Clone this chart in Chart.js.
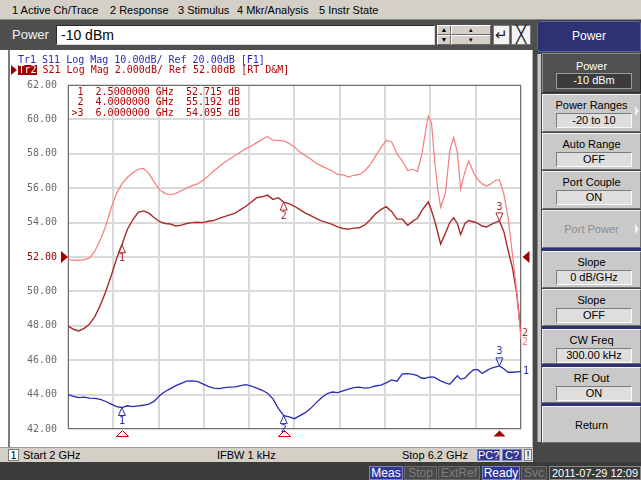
<!DOCTYPE html>
<html>
<head>
<meta charset="utf-8">
<title>S21 / S11 sweep</title>
<script src="https://cdn.jsdelivr.net/npm/chart.js@4.4.1/dist/chart.umd.min.js"></script>
<style>
  html, body { margin: 0; padding: 0; }
  body { width: 641px; height: 480px; position: relative; overflow: hidden; background: #424242;
         font-family: "Liberation Sans", Arial, sans-serif; }
  .box { position: absolute; box-sizing: border-box; }
  #menu { left: 0; top: 0; width: 641px; height: 20px; background: #d4d0c8; border-bottom: 1px solid #8a8a8a; }
  .mi { position: absolute; top: 3px; font-size: 11px; line-height: 14px; color: #000; white-space: nowrap; }
  #entry { left: 0; top: 20px; width: 537px; height: 30px; background: #4f4f4f; }
  #entryLabel { left: 12px; top: 26px; font-size: 13px; line-height: 18px; color: #f2f2f2; }
  #entryField { left: 56px; top: 25px; width: 379px; height: 20px; background: #fff;
                border-style: solid; border-width: 1px; border-color: #2a2a2a #d8d8d8 #d8d8d8 #2a2a2a;
                font-size: 14px; line-height: 18px; padding-left: 4px; color: #000; }
  .sb { position: absolute; box-sizing: border-box; background: #d4d0c8; border-style: solid; border-width: 1px;
        border-color: #fff #6a6a6a #6a6a6a #fff; font-size: 7px; line-height: 7px; text-align: center; color: #000; }
  .wb { position: absolute; box-sizing: border-box; background: #f4f4f4; border: 1px solid #7a7a7a;
        text-align: center; color: #222; }
  #hdr { left: 537px; top: 21px; width: 104px; height: 31px; background: #2c3272; border: 1px solid #5b61a0;
         border-radius: 3px; color: #fff; font-size: 12px; line-height: 29px; text-align: center; }
  #panel { left: 535px; top: 52px; width: 106px; height: 412px; background: #484848; }
  #strip { left: 537px; top: 54px; width: 4px; height: 388px; background: #c6c6c6; border-left: 1px solid #8a8a8a; }
  .key { position: absolute; box-sizing: border-box; left: 542px; width: 99px; background: #c9c9c9;
         border-style: solid; border-width: 1px; border-color: #f2f2f2 #6c6c6c #6c6c6c #f2f2f2; }
  .kl { position: absolute; left: 0; right: 0; top: 3px; text-align: center; font-size: 11px; line-height: 14px; color: #000; }
  .kv { position: absolute; box-sizing: border-box; left: 13px; width: 76px; top: 18px; height: 15px; background: #dedede;
        border-style: solid; border-width: 1px; border-color: #7c7c7c #fafafa #fafafa #7c7c7c;
        text-align: center; font-size: 11px; line-height: 13px; color: #000; }
  .key.sel { background: #505050; border-color: #8a8a8a #2a2a2a #2a2a2a #8a8a8a; }
  .key.sel .kl { color: #fff; }
  .key.sel .kv { background: #3c3c3c; border-color: #9c9c9c; color: #fff; }
  .key.off .kl { color: #8e8e8e; }
  .arr { position: absolute; right: 1px; width: 0; height: 0; border-top: 5px solid transparent;
         border-bottom: 5px solid transparent; border-left: 4px solid #f0f0f0; }
  .sep { position: absolute; left: 542px; width: 99px; height: 3px; background: #2c3272; }
  #pane { left: 0; top: 50px; width: 533px; height: 397px; background: #fff; }
  #paneLine { left: 8px; top: 50px; width: 2px; height: 397px; background: #7c7c7c; }
  #divider { left: 532px; top: 50px; width: 5px; height: 413px; background: #474747; border-left: 1px solid #b8b8b8; }
  #plot { position: absolute; left: 0; top: 50px; }
  #chs { left: 0; top: 447px; width: 533px; height: 15px; background: #d4d0c8; border-top: 1px solid #9a9a9a; }
  .st { position: absolute; top: 448px; font-size: 11px; line-height: 14px; color: #000; white-space: nowrap; }
  .nv { position: absolute; box-sizing: border-box; background: #2f3894; border: 1px solid #7b82c6; color: #fff;
        text-align: center; white-space: nowrap; }
  #bot { left: 0; top: 462px; width: 641px; height: 18px; background: #3b3b3b; }
  .bb { position: absolute; box-sizing: border-box; top: 466px; height: 14px; font-size: 12px; line-height: 12px;
        text-align: center; white-space: nowrap; border: 1px solid #6a6a6a; background: #494949; color: #7e7e7e; }
  .bb.on { background: #2f3894; border-color: #7b82c6; color: #fff; }
</style>
</head>
<body>

<div id="menu" class="box">
  <span class="mi" style="left:12px">1 Active Ch/Trace</span>
  <span class="mi" style="left:110px">2 Response</span>
  <span class="mi" style="left:178px">3 Stimulus</span>
  <span class="mi" style="left:237px">4 Mkr/Analysis</span>
  <span class="mi" style="left:319px">5 Instr State</span>
</div>

<div id="entry" class="box"></div>
<div id="entryLabel" class="box">Power</div>
<div id="entryField" class="box">-10 dBm</div>
<div class="sb" style="left:437px;top:25px;width:14px;height:10px">&#9650;</div>
<div class="sb" style="left:437px;top:35px;width:14px;height:10px">&#9660;</div>
<div class="sb" style="left:451px;top:25px;width:40px;height:10px">&#9652;</div>
<div class="sb" style="left:451px;top:35px;width:40px;height:10px">&#9662;</div>
<div class="wb" style="left:493px;top:25px;width:17px;height:20px;font-size:15px;line-height:18px">&#8629;</div>
<div class="wb" style="left:511px;top:25px;width:20px;height:20px;font-size:17px;line-height:18px;font-weight:100">&#9587;</div>

<div id="hdr" class="box">Power</div>
<div id="panel" class="box"></div>
<div id="strip" class="box"></div>

<div class="key sel" style="top:53px;height:40px"><div class="kl" style="top:5px">Power</div><div class="kv" style="top:19px;height:16px">-10 dBm</div></div>
<div class="key" style="top:94px;height:38px"><div class="kl">Power Ranges</div><div class="kv">-20 to 10</div><div class="arr" style="top:11px"></div></div>
<div class="key" style="top:133px;height:37px"><div class="kl">Auto Range</div><div class="kv">OFF</div></div>
<div class="key" style="top:171px;height:38px"><div class="kl">Port Couple</div><div class="kv">ON</div></div>
<div class="key off" style="top:210px;height:38px"><div class="kl" style="top:11px">Port Power</div><div class="arr" style="top:13px"></div></div>
<div class="sep" style="top:248px"></div>
<div class="key" style="top:251px;height:37px"><div class="kl">Slope</div><div class="kv">0 dB/GHz</div></div>
<div class="key" style="top:289px;height:37px"><div class="kl">Slope</div><div class="kv">OFF</div></div>
<div class="sep" style="top:326px"></div>
<div class="key" style="top:329px;height:35px"><div class="kl">CW Freq</div><div class="kv">300.00 kHz</div></div>
<div class="sep" style="top:364px"></div>
<div class="key" style="top:367px;height:36px"><div class="kl">RF Out</div><div class="kv">ON</div></div>
<div class="sep" style="top:403px"></div>
<div class="key" style="top:406px;height:37px"><div class="kl" style="top:11px">Return</div></div>

<div id="pane" class="box"></div>
<div id="paneLine" class="box"></div>
<div id="divider" class="box"></div>
<canvas id="plot" width="533" height="396"></canvas>

<div id="chs" class="box"></div>
<div class="wb" style="left:8px;top:449px;width:11px;height:12px;font-size:11px;line-height:10px;background:#fff;color:#000">1</div>
<span class="st" style="left:23px">Start 2 GHz</span>
<span class="st" style="left:217px">IFBW 1 kHz</span>
<span class="st" style="left:400px;width:68px;text-align:right">Stop 6.2 GHz</span>
<div class="nv" style="left:477px;top:449px;width:23px;height:12px;font-size:11px;line-height:10px">PC?</div>
<div class="nv" style="left:502px;top:449px;width:20px;height:12px;font-size:11px;line-height:10px">C?</div>
<div class="wb" style="left:524px;top:449px;width:8px;height:12px;font-size:11px;line-height:10px;background:#ececec;color:#000">!</div>

<div id="bot" class="box"></div>
<div class="bb on" style="left:369px;width:34px">Meas</div>
<div class="bb" style="left:404px;width:33px">Stop</div>
<div class="bb" style="left:438px;width:42px">ExtRef</div>
<div class="bb on" style="left:482px;width:38px">Ready</div>
<div class="bb" style="left:521px;width:26px">Svc</div>
<div class="bb" style="left:549px;width:92px;font-size:11px;background:#3b3b3b;border-color:#8a8a8a;color:#fff">2011-07-29 12:09</div>

<script>
// Sweep frequencies (GHz): 50 MHz steps, denser across the 5.2-6.2 GHz ripple
const freqGHz = [
  2.00, 2.05, 2.10, 2.15, 2.20, 2.25, 2.30, 2.35, 2.40, 2.45,
  2.50, 2.55, 2.60, 2.65, 2.70, 2.75, 2.80, 2.85, 2.90, 2.95,
  3.00, 3.05, 3.10, 3.15, 3.20, 3.25, 3.30, 3.35, 3.40, 3.45,
  3.50, 3.55, 3.60, 3.65, 3.70, 3.75, 3.80, 3.85, 3.90, 3.95,
  4.00, 4.05, 4.10, 4.15, 4.20, 4.25, 4.30, 4.35, 4.40, 4.45,
  4.50, 4.55, 4.60, 4.65, 4.70, 4.75, 4.80, 4.85, 4.90, 4.95,
  5.00, 5.05, 5.10, 5.15, 5.20,
  5.24, 5.28, 5.31, 5.34, 5.37, 5.40, 5.425, 5.455, 5.50, 5.54,
  5.575, 5.61, 5.64, 5.68, 5.715, 5.76, 5.80, 5.84, 5.88, 5.92,
  5.96, 6.00, 6.04, 6.08, 6.12, 6.16, 6.20
];

// Tr2 S21 memory trace (dB)
const s21MemoryDb = [
  51.84, 51.82, 51.80, 51.85, 51.95, 52.35, 53.00, 53.80, 54.85, 55.70,
  56.25, 56.62, 56.90, 57.10, 57.15, 56.85, 56.35, 55.90, 55.70, 55.62,
  55.70, 55.85, 56.00, 56.15, 56.25, 56.45, 56.70, 57.00, 57.25, 57.50,
  57.70, 57.90, 58.10, 58.30, 58.45, 58.65, 58.85, 59.00, 58.80, 58.78,
  58.75, 58.60, 58.40, 58.10, 57.90, 57.70, 57.45, 57.30, 57.15, 57.00,
  56.80, 56.78, 56.65, 56.75, 56.80, 57.00, 57.35, 57.85, 58.35, 58.78,
  58.70, 58.00, 57.58, 57.02, 57.10,
  56.97, 57.95, 59.10, 60.20, 59.80, 57.60, 56.10, 54.88, 55.75, 58.20,
  58.96, 58.10, 55.96, 56.95, 57.60, 56.90, 56.50, 56.25, 56.12, 56.25,
  56.45, 56.50, 55.70, 54.30, 52.20, 50.00, 47.20
];

// Tr2 S21 data trace (dB)
const s21DataDb = [
  48.00, 47.80, 47.70, 47.85, 48.10, 48.55, 49.20, 50.00, 50.90, 51.90,
  52.715, 53.60, 54.15, 54.60, 54.68, 54.55, 54.28, 54.05, 53.95, 53.92,
  53.80, 53.85, 53.95, 54.00, 54.02, 54.00, 54.08, 54.12, 54.25, 54.35,
  54.45, 54.55, 54.75, 54.95, 55.20, 55.45, 55.50, 55.60, 55.35, 55.45,
  55.192, 55.10, 54.95, 54.75, 54.55, 54.40, 54.25, 54.10, 54.00, 53.90,
  53.75, 53.66, 53.62, 53.68, 53.70, 53.85, 54.15, 54.50, 54.75, 54.93,
  54.65, 54.20, 54.20, 53.85, 54.10,
  54.25, 54.70, 54.95, 55.20, 54.70, 54.10, 53.50, 52.75, 53.40, 54.00,
  54.28, 53.95, 53.30, 53.95, 54.12, 54.05, 53.95, 53.80, 53.75, 53.88,
  54.00, 54.095, 53.50, 52.40, 51.40, 49.90, 47.60
];

// Tr1 S11 trace (dB), 10 dB/div with 20 dB at the reference line
const s11Db = [
  -20.00, -20.50, -20.90, -20.75, -21.00, -21.10, -21.40, -22.00, -22.75, -23.50,
  -23.75, -23.25, -23.50, -23.25, -23.10, -22.75, -21.90, -20.25, -19.10, -18.25,
  -17.40, -16.75, -16.10, -16.00, -16.15, -16.90, -17.60, -18.10, -18.25, -18.00,
  -17.85, -17.75, -17.40, -17.10, -17.50, -18.10, -18.75, -19.60, -21.25, -24.00,
  -26.10, -26.50, -27.00, -26.10, -25.25, -24.00, -22.40, -20.90, -19.75, -19.25,
  -19.40, -18.90, -18.40, -18.00, -17.85, -18.10, -18.00, -17.50, -17.25, -16.60,
  -15.75, -16.10, -14.00, -13.90, -14.10,
  -14.50, -15.25, -15.25, -15.00, -14.85, -15.00, -15.50, -16.00, -16.60, -17.00,
  -15.75, -14.50, -15.50, -15.25, -14.00, -12.75, -12.75, -13.85, -13.10, -12.35,
  -12.00, -11.65, -12.50, -13.50, -13.50, -13.40, -13.30
];

// Vertical graticule: 10 divisions from start to stop
const xGridGHz = [2.00, 2.42, 2.84, 3.26, 3.68, 4.10, 4.52, 4.94, 5.36, 5.78, 6.20];
// Tr2 scale: 2 dB/div, ref 52 dB
const yTicksDb = [42, 44, 46, 48, 50, 52, 54, 56, 58, 60, 62];
const s21RefDb = 52;
// Tr1 scale: 10 dB/div, ref 20 dB at the same reference line
const s11Range = [-30, 70];

// Markers
const markerFreqGHz = [2.5, 4.0, 6.0];
const markerS21Db = [52.715, 55.192, 54.095];
const activeMarker = 3;

const C = {
  s11: '#2a2ab4',
  data: '#a82a2a',
  mem: '#f57d7d',
  red: '#b40000',
  ref: '#a00000',
  tick: '#6a6a6a'
};
const MONO = '10px "DejaVu Sans Mono", monospace';

function drawMarker(ctx, x, y, n, active, color) {
  ctx.strokeStyle = color;
  ctx.fillStyle = color;
  ctx.lineWidth = 1;
  ctx.beginPath();
  if (active) {
    ctx.moveTo(x, y); ctx.lineTo(x - 3.5, y - 8); ctx.lineTo(x + 3.5, y - 8); ctx.closePath();
    ctx.stroke();
    ctx.fillText(String(n), x, y - 14);
  } else {
    ctx.moveTo(x, y); ctx.lineTo(x - 3.5, y + 8); ctx.lineTo(x + 3.5, y + 8); ctx.closePath();
    ctx.stroke();
    ctx.fillText(String(n), x, y + 14);
  }
}

const vnaOverlay = {
  id: 'vnaOverlay',
  beforeDatasetsDraw(chart) {
    const { ctx, chartArea: a } = chart;
    ctx.save();
    ctx.strokeStyle = '#6e6e6e';
    ctx.lineWidth = 1;
    ctx.strokeRect(Math.round(a.left) + 0.5, Math.round(a.top) + 0.5,
                   Math.round(a.right - a.left) - 1, Math.round(a.bottom - a.top) - 1);
    ctx.restore();
  },
  afterDatasetsDraw(chart) {
    const { ctx, scales } = chart;
    const xs = scales.x, y2 = scales.y, y1 = scales.yS11;
    ctx.save();
    ctx.font = MONO;
    ctx.textAlign = 'center';
    ctx.textBaseline = 'middle';
    markerFreqGHz.forEach((f, i) => {
      const px = xs.getPixelForValue(f);
      const active = (i + 1) === activeMarker;
      drawMarker(ctx, px, y2.getPixelForValue(markerS21Db[i]), i + 1, active, C.data);
      const s11 = s11Db[freqGHz.indexOf(f)];
      drawMarker(ctx, px, y1.getPixelForValue(s11), i + 1, active, C.s11);
    });
    ctx.restore();
  },
  afterDraw(chart) {
    const { ctx, chartArea: a, scales } = chart;
    const xs = scales.x, y2 = scales.y, y1 = scales.yS11;
    ctx.save();
    ctx.font = MONO;
    ctx.textBaseline = 'middle';
    ctx.textAlign = 'left';

    // Trace status lines
    ctx.fillStyle = C.s11;
    ctx.fillText('Tr1 S11 Log Mag 10.00dB/ Ref 20.00dB [F1]', 18, 10);
    ctx.fillStyle = C.ref;
    ctx.beginPath(); ctx.moveTo(11, 15); ctx.lineTo(17, 20); ctx.lineTo(11, 25); ctx.closePath(); ctx.fill();
    ctx.fillRect(18, 15, 19, 10);
    ctx.fillStyle = '#fff';
    ctx.fillText('Tr2', 18.5, 20.5);
    ctx.fillStyle = C.red;
    ctx.fillText(' S21 Log Mag 2.000dB/ Ref 52.00dB [RT D&M]', 36.5, 20.5);

    // Marker readout
    markerFreqGHz.forEach((f, i) => {
      const n = i + 1;
      const line = (n === activeMarker ? '>' : ' ') + n + '  ' + f.toFixed(7) + ' GHz  ' +
                   markerS21Db[i].toFixed(3) + ' dB';
      ctx.fillText(line, 71.5, a.top + 7 + i * 10.5);
    });

    // Reference position arrows for Tr2
    const yr = Math.round(y2.getPixelForValue(s21RefDb));
    ctx.fillStyle = C.ref;
    ctx.beginPath(); ctx.moveTo(61, yr - 6); ctx.lineTo(68, yr); ctx.lineTo(61, yr + 6); ctx.closePath(); ctx.fill();
    ctx.beginPath(); ctx.moveTo(529.5, yr - 6); ctx.lineTo(522.5, yr); ctx.lineTo(529.5, yr + 6); ctx.closePath(); ctx.fill();

    // Stimulus marker flags below the graticule
    const yb = a.bottom + 1.5;
    markerFreqGHz.forEach((f, i) => {
      const px = Math.round(xs.getPixelForValue(f)) + 0.5;
      ctx.beginPath(); ctx.moveTo(px, yb); ctx.lineTo(px - 6, yb + 6); ctx.lineTo(px + 6, yb + 6); ctx.closePath();
      if ((i + 1) === activeMarker) { ctx.fillStyle = C.ref; ctx.fill(); }
      else { ctx.strokeStyle = '#c00000'; ctx.lineWidth = 1; ctx.stroke(); }
    });

    // Trace identifiers at the right end of each trace
    const last = freqGHz.length - 1;
    const yData = y2.getPixelForValue(s21DataDb[last]);
    const yMem = Math.max(y2.getPixelForValue(s21MemoryDb[last]), yData + 9);
    const yS11 = y1.getPixelForValue(s11Db[last]);
    ctx.fillStyle = C.data; ctx.fillText('2', a.right + 1, yData + 1);
    ctx.fillStyle = C.mem; ctx.fillText('2', a.right + 1, yMem + 1);
    ctx.fillStyle = C.s11; ctx.fillText('1', a.right + 2, yS11);
    ctx.restore();
  }
};

const toPoints = (vals) => freqGHz.map((f, i) => ({ x: f, y: vals[i] }));

new Chart(document.getElementById('plot'), {
  type: 'line',
  data: {
    datasets: [
      { label: 'S21 Mem', data: toPoints(s21MemoryDb), yAxisID: 'y',
        borderColor: C.mem, borderWidth: 1.2, pointRadius: 0, tension: 0 },
      { label: 'S21', data: toPoints(s21DataDb), yAxisID: 'y',
        borderColor: C.data, borderWidth: 1.4, pointRadius: 0, tension: 0 },
      { label: 'S11', data: toPoints(s11Db), yAxisID: 'yS11',
        borderColor: C.s11, borderWidth: 1.3, pointRadius: 0, tension: 0 }
    ]
  },
  options: {
    responsive: false,
    animation: false,
    devicePixelRatio: 1,
    layout: { padding: { left: 0, right: 12, top: 35, bottom: 10 } },
    plugins: { legend: { display: false }, tooltip: { enabled: false } },
    scales: {
      x: {
        type: 'linear', min: 2, max: 6.2,
        afterBuildTicks: (ax) => { ax.ticks = xGridGHz.map(v => ({ value: v })); },
        afterFit: (s) => { s.height = 0; },
        ticks: { display: false },
        grid: { color: '#d9d9d9', lineWidth: 2, drawTicks: false },
        border: { display: false }
      },
      y: {
        type: 'linear', position: 'left', min: 42, max: 62,
        afterBuildTicks: (ax) => { ax.ticks = yTicksDb.map(v => ({ value: v })); },
        afterFit: (s) => { s.width = 68; },
        ticks: {
          padding: 11,
          font: { family: '"DejaVu Sans Mono", monospace', size: 10 },
          color: (c) => (c.tick && c.tick.value === s21RefDb) ? C.ref : C.tick,
          callback: (v) => Number(v).toFixed(2)
        },
        grid: { color: '#d9d9d9', lineWidth: 2, drawTicks: false },
        border: { display: false }
      },
      yS11: { type: 'linear', display: false, min: s11Range[0], max: s11Range[1] }
    }
  },
  plugins: [vnaOverlay]
});
</script>
</body>
</html>
